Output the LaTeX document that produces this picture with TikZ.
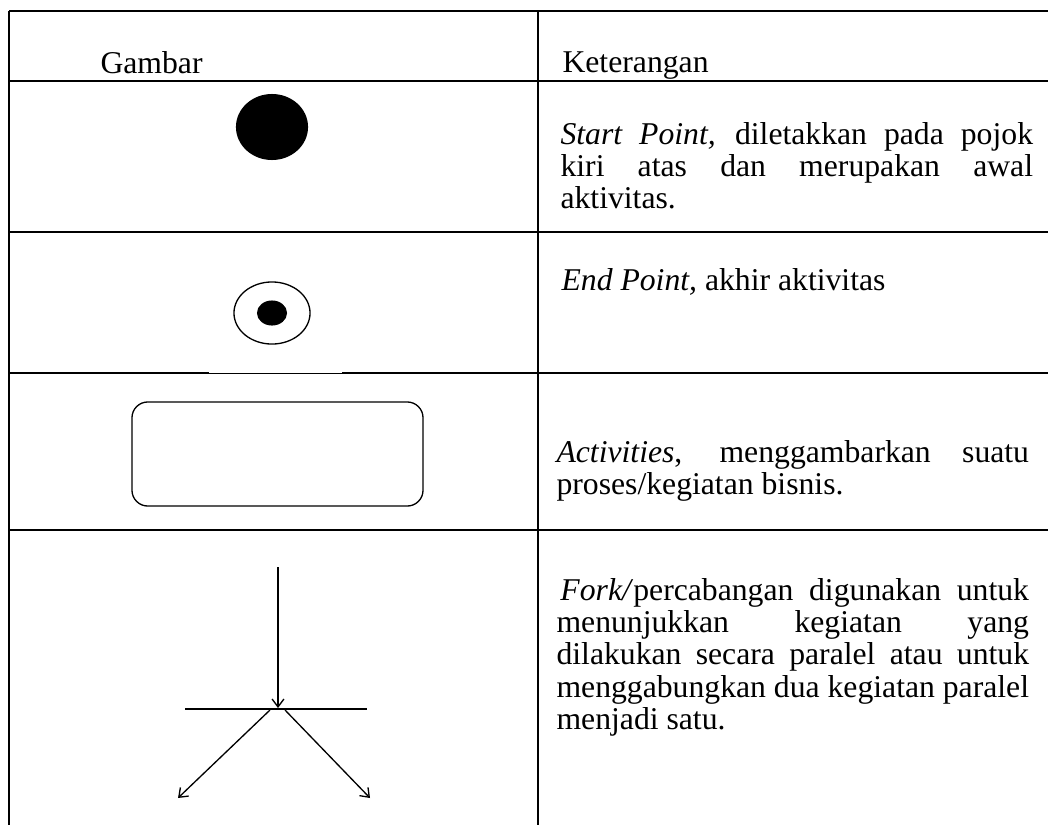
\documentclass[tikz,border=0pt]{standalone}
\usepackage{fontspec}
\setmainfont{Liberation Serif}
\usepackage{tikz}
\usetikzlibrary{shapes.geometric,positioning,arrows.meta}

\begin{document}
\begin{tikzpicture}[x=0.3786pt,y=-0.3786pt,
			cell line/.style={draw,line width=0.76pt},
			shape line/.style={draw,line width=0.5pt},
			fork arrow/.style={shape line,-{Straight Barb[length=3pt,width=4.5pt]}},
			start dot/.style={ellipse,fill=black,minimum width=27.3pt,minimum height=25pt,inner sep=0pt},
			end ring/.style={ellipse,draw,line width=0.5pt,minimum width=28.8pt,minimum height=23.5pt,inner sep=0pt},
			end dot/.style={ellipse,fill=black,minimum width=11.4pt,minimum height=9.5pt,inner sep=0pt},
			activity box/.style={rectangle,draw,line width=0.5pt,rounded corners=6pt,minimum width=110.2pt,minimum height=39.4pt,inner sep=0pt},
			head text/.style={anchor=base west,inner sep=0pt,font=\fontsize{12}{12.3}\selectfont},
			desc text/.style={anchor=base west,inner sep=0pt,text width=178.9pt,align=justify,font=\fontsize{12}{12.3}\selectfont}
			]
			
			\useasboundingbox (0,0) rectangle (1048,825);
			
			% table
			\foreach \y in {11,81,232,373,530} {
				\draw[cell line] (9,\y) -- (1048,\y);
			}
			\draw[cell line] (9,11) -- (9,825);
			\draw[cell line] (538,11) -- (538,825);
			\draw[white,line width=0.4pt] (209,372) -- (342,372);
			
			% header
			\node[head text] (gambar) at (100,73) {Gambar};
			\node[head text] (ket) at (562,72) {Keterangan};
			
			% start point
			\node[start dot] (start) at (272,127) {};
			\node[desc text] (startdesc) at (560,144) {\textit{Start Point,} diletakkan pada pojok\linebreak kiri atas dan merupakan awal\linebreak aktivitas.};
			
			% end point
			\node[end ring] (endring) at (272,313) {};
			\node[end dot] (enddot) at (272,313) {};
			\node[desc text] (enddesc) at (561,290) {\textit{End Point,} akhir aktivitas};
			
			% activities
			\node[activity box] (act) at (277.5,454) {};
			\node[desc text] (actdesc) at (556,462) {\textit{Activities}, menggambarkan suatu\linebreak proses/kegiatan bisnis.};
			
			% fork
			\coordinate (forkin) at (278,567);
			\coordinate (forkmid) at (278,708);
			\coordinate (barl) at (185,709);
			\coordinate (barr) at (367,709);
			\coordinate (brl) at (270,710);
			\coordinate (brr) at (285,710);
			\coordinate (outl) at (178,798);
			\coordinate (outr) at (370,798);
			\draw[fork arrow] (forkin) -- (forkmid);
			\draw[shape line] (barl) -- (barr);
			\draw[fork arrow] (brl) -- (outl);
			\draw[fork arrow] (brr) -- (outr);
			\node[desc text] (forkdesc) at (556,600) {\hspace{1.5pt}\textit{Fork/}percabangan digunakan untuk\linebreak menunjukkan kegiatan yang\linebreak dilakukan secara paralel atau untuk\linebreak menggabungkan dua kegiatan paralel\linebreak menjadi satu.};
			\end{tikzpicture}
\end{document}
